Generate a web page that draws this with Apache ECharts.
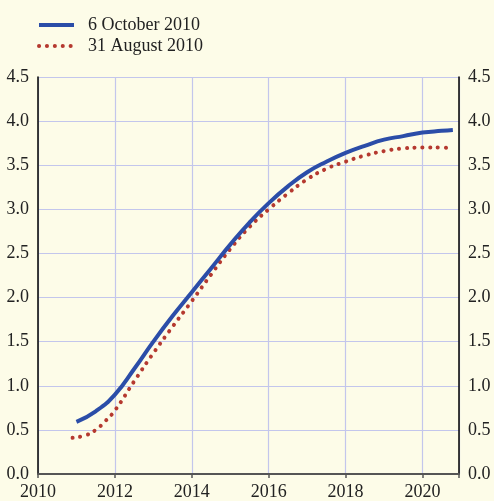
<!DOCTYPE html>
<html><head><meta charset="utf-8">
<script src="https://cdn.jsdelivr.net/npm/echarts@6/dist/echarts.min.js"></script>
<style>html,body{margin:0;padding:0;background:#fdfce8}#c{width:494px;height:501px}</style>
</head><body><div id="c"></div>
<script>
const seriesNames = ['6 October 2010', '31 August 2010'];
const octYears = [2011, 2011.5, 2012, 2012.5, 2013, 2013.5, 2014, 2014.5, 2015, 2015.5, 2016, 2016.5, 2017, 2017.5, 2018, 2018.5, 2019, 2019.5, 2020, 2020.5, 2020.79];
const octValues = [0.59, 0.71, 0.90, 1.19, 1.50, 1.79, 2.06, 2.33, 2.60, 2.85, 3.07, 3.26, 3.42, 3.54, 3.64, 3.72, 3.79, 3.83, 3.87, 3.89, 3.90];
const augYears = [2010.9, 2011.25, 2011.5, 2011.75, 2012, 2012.5, 2013, 2013.5, 2014, 2014.5, 2015, 2015.5, 2016, 2016.5, 2017, 2017.5, 2018, 2018.5, 2019, 2019.5, 2020, 2020.5, 2020.75];
const augValues = [0.41, 0.44, 0.50, 0.60, 0.72, 1.05, 1.37, 1.67, 1.96, 2.26, 2.55, 2.80, 3.00, 3.18, 3.34, 3.46, 3.54, 3.61, 3.66, 3.69, 3.70, 3.70, 3.69];
const xTicks = [2010, 2012, 2014, 2016, 2018, 2020];
const yTicks = [0, 0.5, 1, 1.5, 2, 2.5, 3, 3.5, 4, 4.5];

const font = 'Liberation Serif';
const gridColor = '#c3c6ec';
const blue = '#2b4da8';
const red = '#b5392f';
const dotStyle = {color: red, width: 4, type: [0.1, 7.7], cap: 'round'};
const chart = echarts.init(document.getElementById('c'), null, {renderer: 'canvas'});
const yAxisCommon = {
  type: 'value', min: yTicks[0], max: yTicks[yTicks.length - 1], interval: 0.5,
  axisLine: {show: true, lineStyle: {color: '#000', width: 1.5}},
  axisTick: {show: false},
  axisLabel: {color: '#222', fontFamily: font, fontSize: 18, margin: 9, formatter: v => v.toFixed(1)},
  splitLine: {show: true, lineStyle: {color: gridColor, width: 1.2}}
};
chart.setOption({
  backgroundColor: '#fdfce8',
  animation: false,
  legend: {
    orient: 'vertical', left: 32, top: 11, itemGap: 3, itemWidth: 35, itemHeight: 14,
    padding: 5,
    itemStyle: {opacity: 0},
    textStyle: {fontFamily: font, fontSize: 18, color: '#222', padding: [0, 0, 0, 9]},
    data: [
      {name: seriesNames[0], lineStyle: {color: blue, width: 4}},
      {name: seriesNames[1], lineStyle: {color: red, width: 4, type: [0.1, 7.8], cap: 'round'}}
    ]
  },
  grid: {left: 38, right: 35, top: 77, bottom: 25, containLabel: false},
  xAxis: {
    type: 'value', min: 2010, max: 2020.95, interval: 2,
    axisLine: {show: true, onZero: false, lineStyle: {color: '#555', width: 2}},
    axisTick: {show: true, inside: false, length: 4, lineStyle: {color: '#555', width: 1.5}},
    axisLabel: {color: '#222', fontFamily: font, fontSize: 18, margin: 9,
      formatter: v => xTicks.includes(v) ? String(v) : ''},
    splitLine: {show: true, lineStyle: {color: gridColor, width: 1.2}}
  },
  yAxis: [
    Object.assign({}, yAxisCommon, {position: 'left'}),
    Object.assign({}, yAxisCommon, {position: 'right', splitLine: {show: false}})
  ],
  series: [
    {
      name: seriesNames[0], type: 'line', smooth: 0.5, showSymbol: false, symbol: 'none',
      data: octYears.map((x, i) => [x, octValues[i]]),
      lineStyle: {color: blue, width: 4}, itemStyle: {color: blue}, z: 3
    },
    {
      name: seriesNames[1], type: 'line', smooth: 0.5, showSymbol: false, symbol: 'none',
      data: augYears.map((x, i) => [x, augValues[i]]),
      lineStyle: dotStyle, itemStyle: {color: red}, z: 2
    }
  ]
});
</script></body></html>
